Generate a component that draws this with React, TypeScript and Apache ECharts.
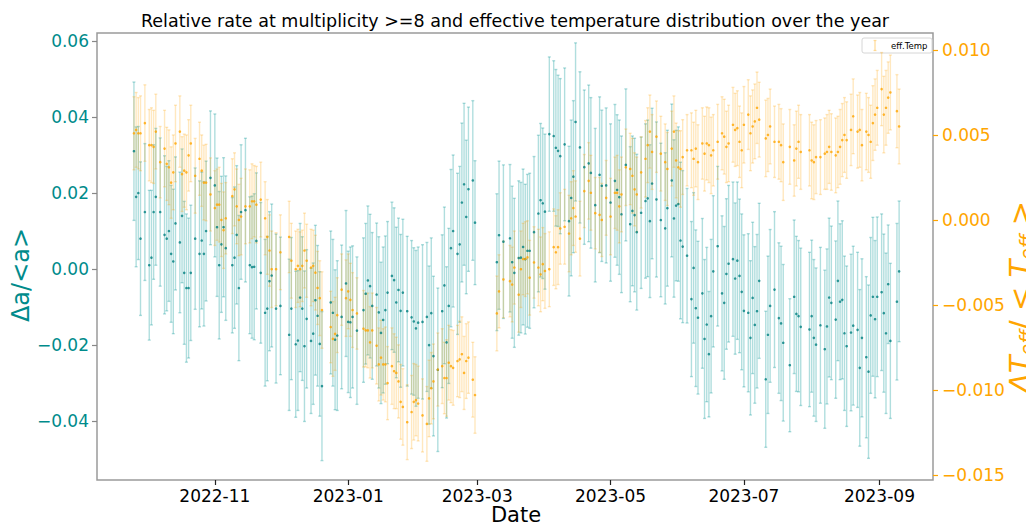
import React, { useEffect, useRef } from 'react';
import * as echarts from 'echarts';

// Day 0 = 2022-09-25 (UTC); x positions are days since this date.
const START_DATE = '2022-09-25';

const dayOffsets = [
  0, 1, 2, 3, 5, 7, 8, 9, 10, 12, 14, 15, 16, 17, 18, 19, 21, 22, 23, 24, 25, 26, 28, 30, 31, 32, 33, 35, 37, 38, 39, 40, 41, 42, 45, 46, 47, 48, 49, 51, 53, 54, 55, 56, 58, 60,
  61, 62, 63, 65, 67, 71, 72, 74, 75, 76, 77, 78, 79, 81, 82, 83, 84, 85, 86, 90, 91, 92, 93, 95, 97, 98, 99, 100, 102, 105, 106, 107, 108, 109, 111, 112, 113, 114, 115, 116, 118, 119, 120, 121, 122, 123,
  125, 127, 128, 129, 130, 132, 134, 135, 136, 137, 139, 141, 142, 143, 144, 145, 146, 148, 149, 150, 151, 152, 153, 155, 156,
  166, 167, 169, 172, 173, 174, 176, 177, 178, 179, 180, 181, 183, 185, 186, 187, 188,
  190, 192, 193, 194, 195, 197, 199, 200, 201, 202, 204, 206, 208, 209, 211, 213, 214, 216, 218, 220, 221, 222, 223, 225, 227, 228, 229, 230, 232, 234, 235, 236, 237, 239, 241, 243, 244, 246, 247, 248, 249, 250, 251,
  253, 255, 256, 257, 258, 260, 261, 262, 263, 264, 265, 267, 269, 270, 271, 272, 274, 275, 276, 277, 278, 279, 281, 282, 283, 284, 285, 286, 289, 290, 291, 293, 295, 296, 297, 300, 302, 303, 304, 305, 309, 310, 311, 312, 314, 316,
  317, 318, 319, 321, 322, 323, 324, 325, 326, 328, 329, 331, 332, 333, 335, 336, 337, 338, 339, 340, 342, 343, 344, 345, 346, 349, 350,
];

// Δa/<a> (left axis)
const rateValues = [
  0.031, 0.019, 0.020, 0.008, 0.015, 0.001, 0.003, 0.015, 0.019, 0.015, 0.009, 0.008, 0.010, 0.004, 0.002, 0.012, 0.007, 0.014, -0.001, -0.005, -0.005, -0.001, 0.008, 0.004, 0.0075, 0.004, 0.010, 0.024, 0.022, 0.011, 0.001, 0.0065, 0.011, 0.0055, 0.001, 0.003, 0.009, -0.005, 0.015, 0.0155, 0.001, 0.0005, 0.0006, 0.0074, -0.001, -0.0115,
  -0.0104, -0.0032, -0.0017, -0.0104, -0.0097, -0.0173, -0.0104, -0.0198, -0.0188, -0.0075, -0.0104, -0.0203, -0.0131, -0.0189, -0.0170, -0.0082, -0.0123, -0.0197, -0.0308, -0.0088, -0.0115, -0.0186, -0.0175, -0.0126, -0.0038, -0.0139, -0.0140, -0.0126, -0.0162, -0.0108, -0.0065, -0.0030, -0.0045, -0.0097, -0.0067, -0.0114, -0.0168, -0.0134, -0.0108, -0.0062, -0.0018, -0.0029, -0.0088, -0.0055, -0.0110, -0.0062,
  -0.0111, -0.0127, -0.0138, -0.0156, -0.0141, -0.0139, -0.0126, -0.0200, -0.0116, -0.0229, -0.0265, -0.0111, -0.0043, -0.0193, -0.0097, 0.0055, 0.0100, 0.0040, 0.0065, 0.0175, 0.0223, 0.0137, 0.0210, 0.0233, 0.0122,
  0.0018, 0.0089, 0.0072, 0.0081, 0.0018, -0.0010, 0.0029, 0.0030, 0.0058, 0.0026, 0.0048, 0.0048, 0.0097, 0.0146, 0.0181, 0.0173, 0.0151,
  0.0355, 0.0350, 0.0319, 0.0311, 0.0297, 0.0328, 0.0126, 0.0187, 0.0243, 0.0387, 0.0320, 0.0268, 0.0278, 0.0253, 0.0168, 0.0248, 0.0219, 0.0220, 0.0175, 0.0232, 0.0208, 0.0189, 0.0144, 0.0274, 0.0118, 0.0153, 0.0142, 0.0097, 0.0148, 0.0179, 0.0186, 0.0126, 0.0225, 0.0183, 0.0129, 0.0107, 0.0160, 0.0233, 0.0133, 0.0167, 0.0171, 0.0075, 0.0059,
  0.0035, -0.0079, 0.0003, -0.0103, -0.0128, -0.0064, -0.0184, -0.0146, -0.0224, -0.0124, -0.0006, 0.0060, -0.0064, -0.0089, -0.0013, 0.0014, 0.0026, -0.0025, 0.0022, -0.0018, -0.0060, -0.0110, -0.0115, -0.0181, -0.0076, -0.0147, -0.0111, -0.0031, -0.0290, -0.0173, -0.0097, -0.0054, -0.0129, -0.0143, -0.0194, -0.0253, -0.0073, -0.0118, -0.0124, -0.0152, -0.0159, -0.0124, -0.0181, -0.0199, -0.0148, -0.0211,
  -0.0151, -0.0075, -0.0089, -0.0133, -0.0031, -0.0086, -0.0081, -0.0169, -0.0203, -0.0167, -0.0149, -0.0160, -0.0260, -0.0181, -0.0232, -0.0270, -0.0122, -0.0073, -0.0132, -0.0073, -0.0061, -0.0116, -0.0169, -0.0040, -0.0189, -0.0086, -0.0006,
];

// ΔT_eff/<T_eff> (right axis)
const tempValues = [
  0.0051, 0.0053, 0.0051, 0.0051, 0.0057, 0.0044, 0.0044, 0.0043, 0.0052, 0.0034, 0.0042, 0.0033, 0.0031, 0.0022, 0.0028, 0.0045, 0.0052, 0.0027, 0.0029, 0.0028, 0.0038, 0.0045, 0.0026, 0.0036, 0.0029, 0.0022, 0.0022, 0.0015, 0.0007, 0.0009, 0.0009, 0.0000, -0.0006, 0.0001, 0.0014, 0.0018, 0.0008, 0.0000, 0.0002, 0.0008, 0.0008, 0.0011, 0.0011, 0.0009, 0.0012, 0.0001,
  -0.0010, -0.0018, -0.0029, -0.0029, -0.0019, -0.0010, -0.0024, -0.0029, -0.0027, -0.0029, -0.0027, -0.0018, -0.0024, -0.0028, -0.0027, -0.0031, -0.0040, -0.0046, -0.0053, -0.0063, -0.0070, -0.0067, -0.0056, -0.0041, -0.0046, -0.0042, -0.0047, -0.0053, -0.0055, -0.0064, -0.0065, -0.0065, -0.0072, -0.0065, -0.0074, -0.0085, -0.0081, -0.0085, -0.0085, -0.0096, -0.0086, -0.0089, -0.0090, -0.0095, -0.0107, -0.0110,
  -0.0119, -0.0113, -0.0107, -0.0106, -0.0108, -0.0115, -0.0120, -0.0105, -0.0099, -0.0095, -0.0088, -0.0086, -0.0093, -0.0093, -0.0084, -0.0086, -0.0087, -0.0083, -0.0082, -0.0079, -0.0090, -0.0083, -0.0081, -0.0094, -0.0103,
  -0.0055, -0.0042, -0.0035, -0.0036, -0.0038, -0.0028, -0.0044, -0.0029, -0.0023, -0.0023, -0.0022, -0.0034, -0.0025, -0.0028, -0.0032, -0.0026, -0.0030,
  -0.0029, -0.0016, -0.0019, -0.0016, -0.0005, -0.0004, -0.0008, 0.0001, 0.0007, 0.0002, -0.0011, 0.0017, 0.0023, 0.0016, 0.0004, 0.0003, 0.0000, 0.0013, 0.0002, 0.0016, 0.0016, 0.0008, 0.0015, 0.0031, 0.0030, 0.0026, 0.0018, 0.0015, 0.0028, 0.0036, 0.0044, 0.0052, 0.0040, 0.0049, 0.0039, 0.0034, 0.0030, 0.0042, 0.0052, 0.0035, 0.0031, 0.0030, 0.0037,
  0.0041, 0.0041, 0.0036, 0.0042, 0.0034, 0.0045, 0.0039, 0.0045, 0.0044, 0.0038, 0.0041, 0.0046, 0.0051, 0.0049, 0.0043, 0.0045, 0.0056, 0.0053, 0.0054, 0.0046, 0.0041, 0.0056, 0.0062, 0.0051, 0.0055, 0.0058, 0.0066, 0.0059, 0.0048, 0.0050, 0.0055, 0.0046, 0.0046, 0.0044, 0.0034, 0.0043, 0.0035, 0.0042, 0.0046, 0.0040, 0.0041, 0.0035, 0.0034, 0.0037, 0.0037, 0.0039,
  0.0040, 0.0043, 0.0040, 0.0038, 0.0040, 0.0043, 0.0047, 0.0050, 0.0047, 0.0053, 0.0061, 0.0052, 0.0053, 0.0044, 0.0052, 0.0050, 0.0046, 0.0057, 0.0062, 0.0066, 0.0077, 0.0062, 0.0066, 0.0072, 0.0075, 0.0064, 0.0055,
];

// error half-widths, in units of 1e-3
const rateErrMilli = [
  18.2, 18.4, 17.5, 20.2, 18.0, 19.7, 17.7, 17.7, 18.0, 19.5, 20.8, 19.0, 18.5, 18.0, 19.0, 17.5, 18.5, 17.6, 18.8, 19.5, 18.4, 17.8, 18.6, 19.2, 18.0, 19.0, 18.4, 17.6, 18.8, 18.2, 19.4, 17.9, 18.3, 19.0, 17.8, 18.6, 18.2, 19.1, 17.7, 18.9, 18.0, 18.7, 19.2, 17.9, 18.5, 19.3,
  19.0, 18.3, 18.8, 19.6, 18.1, 19.9, 18.7, 19.2, 18.4, 19.5, 18.9, 19.8, 18.2, 19.1, 18.6, 19.7, 18.5, 19.0, 19.6, 18.8, 19.3, 18.4, 19.7, 18.9, 19.2, 18.6, 19.8, 18.7, 19.4, 19.0, 18.5, 19.6, 18.9, 19.3, 18.8, 19.9, 18.6, 19.2, 19.5, 18.7, 19.4, 19.0, 19.8, 18.9, 20.1, 19.3,
  19.7, 20.2, 19.4, 20.5, 19.9, 20.3, 19.6, 20.8, 19.8, 21.0, 21.5, 20.1, 20.6, 19.9, 20.4, 20.7, 20.0, 21.2, 20.5, 20.9, 21.3, 20.2, 21.6, 21.0, 16.3,
  18.0, 19.5, 20.2, 19.4, 20.0, 19.6, 20.3, 19.8, 20.5, 19.7, 20.1, 20.4, 19.9, 20.6, 20.2, 19.8, 20.4,
  20.3, 19.8, 20.6, 19.9, 20.4, 20.1, 19.7, 20.5, 20.0, 20.8, 19.9, 20.3, 20.6, 19.8, 20.2, 20.5, 19.9, 20.4, 20.7, 20.1, 19.8, 20.3, 20.6, 20.0, 20.4, 19.7, 20.2, 20.5, 19.9, 20.3, 20.6, 20.1, 19.8, 20.4, 20.2, 19.9, 20.5, 20.1, 20.7, 19.8, 20.3, 20.6, 20.0,
  17.7, 20.4, 19.8, 20.6, 20.1, 19.7, 20.9, 20.3, 16.5, 20.2, 19.9, 21.0, 20.4, 20.1, 19.8, 20.6, 20.3, 19.9, 20.7, 20.2, 20.5, 20.0, 20.8, 20.3, 19.9, 20.6, 20.2, 20.4, 17.9, 20.7, 20.1, 20.5, 19.8, 20.3, 20.6, 17.5, 20.2, 20.4, 19.9, 20.7, 20.3, 20.0, 20.6, 20.2, 20.5, 20.8,
  20.4, 20.9, 20.2, 20.7, 21.0, 20.5, 20.8, 20.3, 21.1, 20.6, 20.9, 20.4, 20.6, 20.8, 21.2, 22.8, 20.5, 20.9, 20.7, 21.0, 20.6, 20.8, 21.1, 15.6, 20.4, 20.6, 18.5,
];

const tempErrMilli = [
  2.15, 2.2, 2.1, 2.2, 2.25, 2.1, 2.2, 2.15, 2.2, 2.1, 2.25, 2.15, 2.2, 2.1, 2.2, 2.25, 2.1, 2.2, 2.15, 2.2, 2.1, 2.25, 2.2, 2.15, 2.1, 2.2, 2.25, 2.15, 2.2, 2.1, 2.2, 2.15, 2.25, 2.1, 2.2, 2.15, 2.2, 2.1, 2.25, 2.2, 2.15, 2.2, 2.1, 2.25, 2.2, 2.15,
  2.2, 2.1, 2.25, 2.15, 2.2, 2.1, 2.2, 2.25, 2.15, 2.2, 2.1, 2.2, 2.15, 2.25, 2.1, 2.2, 2.15, 2.2, 2.25, 2.1, 2.2, 2.15, 2.2, 2.1, 2.25, 2.2, 2.15, 2.2, 2.1, 2.25, 2.15, 2.2, 2.1, 2.2, 2.25, 2.15, 2.2, 2.1, 2.2, 2.15, 2.25, 2.2, 2.1, 2.15, 2.2, 2.25,
  2.2, 2.15, 2.25, 2.1, 2.2, 2.15, 2.2, 2.25, 2.1, 2.2, 2.15, 2.2, 2.1, 2.25, 2.2, 2.15, 2.2, 2.1, 2.25, 2.2, 2.15, 2.2, 2.1, 2.2, 2.25,
  2.2, 2.15, 2.25, 2.1, 2.2, 2.15, 2.2, 2.25, 2.1, 2.2, 2.15, 2.2, 2.1, 2.25, 2.2, 2.15, 2.2,
  2.2, 2.25, 2.15, 2.2, 2.1, 2.2, 2.25, 2.15, 2.2, 2.1, 2.2, 2.15, 2.25, 2.2, 2.1, 2.2, 2.15, 2.2, 2.25, 2.1, 2.2, 2.15, 2.2, 2.25, 2.1, 2.2, 2.15, 2.2, 2.1, 2.25, 2.2, 2.15, 2.2, 2.1, 2.2, 2.25, 2.15, 2.2, 2.1, 2.2, 2.15, 2.25, 2.2,
  2.1, 2.2, 2.15, 2.25, 2.2, 2.1, 2.2, 2.15, 2.2, 2.25, 2.1, 2.2, 2.15, 2.2, 2.1, 2.25, 2.2, 2.15, 2.2, 2.1, 2.2, 2.25, 2.05, 2.2, 2.15, 2.2, 2.1, 2.2, 2.25, 2.15, 2.2, 2.1, 2.2, 2.15, 2.25, 2.2, 2.1, 2.2, 2.15, 2.2, 2.1, 2.25, 2.2, 2.15, 2.2, 2.1,
  2.2, 2.15, 2.25, 2.2, 2.1, 2.2, 2.15, 2.2, 2.25, 2.1, 2.2, 2.15, 2.2, 2.1, 2.25, 2.2, 2.15, 2.2, 2.1, 2.2, 2.15, 2.25, 2.2, 2.1, 2.2, 2.15, 2.2,
];

const xTickLabels = ['2022-11', '2023-01', '2023-03', '2023-05', '2023-07', '2023-09'];
const leftTicks = [-0.04, -0.02, 0.0, 0.02, 0.04, 0.06];
const rightTicks = [-0.015, -0.01, -0.005, 0.0, 0.005, 0.01];

const TITLE = 'Relative rate at multiplicity >=8 and effective temperature distribution over the year';
const FONT = 'DejaVu Sans';
const TEAL = '#008080';
const ORANGE = '#FFA500';

const DAY_MS = 86400000;
const parseUTC = (s: string) => {
  const [y, m, d] = s.split('-').map(Number);
  return Date.UTC(y, m - 1, d || 1);
};
const startMs = parseUTC(START_DATE);
const xTickValues = xTickLabels.map((l) => (parseUTC(l) - startMs) / DAY_MS);
const minus = (s: string) => s.replace('-', '\u2212');

function errRender(color: string) {
  return (params: any, api: any) => {
    const x = api.value(0);
    const lo = api.coord([x, api.value(1)]);
    const hi = api.coord([x, api.value(2)]);
    const cw = 1.5;
    const style = { stroke: color, lineWidth: 1.4 };
    return {
      type: 'group',
      children: [
        { type: 'line', shape: { x1: hi[0], y1: hi[1], x2: lo[0], y2: lo[1] }, style },
        { type: 'line', shape: { x1: hi[0] - cw, y1: hi[1], x2: hi[0] + cw, y2: hi[1] }, style },
        { type: 'line', shape: { x1: lo[0] - cw, y1: lo[1], x2: lo[0] + cw, y2: lo[1] }, style },
      ],
    };
  };
}

export default function App() {
  const ref = useRef<HTMLDivElement>(null);
  useEffect(() => {
    if (!ref.current) return;
    const chart = echarts.init(ref.current, undefined, { renderer: 'svg' });
    const n = Math.min(dayOffsets.length, rateValues.length, tempValues.length);
    const rateErrData: number[][] = [];
    const ratePts: number[][] = [];
    const tempErrData: number[][] = [];
    const tempPts: number[][] = [];
    for (let i = 0; i < n; i++) {
      const d = dayOffsets[i];
      const re = (rateErrMilli[i] ?? 19) / 1000;
      const te = (tempErrMilli[i] ?? 2.2) / 1000;
      rateErrData.push([d, rateValues[i] - re, rateValues[i] + re]);
      ratePts.push([d, rateValues[i]]);
      tempErrData.push([d, tempValues[i] - te, tempValues[i] + te]);
      tempPts.push([d, tempValues[i]]);
    }
    const option: any = {
      animation: false,
      textStyle: { fontFamily: FONT },
      grid: {
        left: 97, right: 93, top: 33, bottom: 47,
        show: true, borderColor: '#9a9a9a', borderWidth: 1.5,
        backgroundColor: 'transparent', containLabel: false, outerBoundsMode: 'none',
      },
      xAxis: {
        type: 'value', min: -16.9, max: 365.5, position: 'bottom',
        axisLine: { show: false, onZero: false },
        splitLine: { show: false },
        axisTick: { show: true, customValues: xTickValues, length: 5, lineStyle: { color: '#222', width: 1.2 } },
        axisLabel: {
          customValues: xTickValues, color: '#000', fontSize: 17, margin: 7, fontFamily: FONT,
          formatter: (v: number) => {
            const i = xTickValues.findIndex((t) => Math.abs(t - v) < 1e-6);
            return i >= 0 ? xTickLabels[i] : '';
          },
        },
      },
      yAxis: [
        {
          type: 'value', min: -0.0555, max: 0.0621, position: 'left',
          axisLine: { show: false, onZero: false }, splitLine: { show: false },
          axisTick: { show: true, customValues: leftTicks, length: 5, lineStyle: { color: '#888', width: 1.2 } },
          axisLabel: {
            customValues: leftTicks, color: 'darkcyan', fontSize: 17, margin: 8, fontFamily: FONT,
            formatter: (v: number) => minus(v.toFixed(2)),
          },
        },
        {
          type: 'value', min: -0.0153, max: 0.011, position: 'right',
          axisLine: { show: false, onZero: false }, splitLine: { show: false },
          axisTick: { show: true, customValues: rightTicks, length: 5, lineStyle: { color: ORANGE, width: 1.2 } },
          axisLabel: {
            customValues: rightTicks, color: ORANGE, fontSize: 17, margin: 9, fontFamily: FONT,
            formatter: (v: number) => minus(v.toFixed(3)),
          },
        },
      ],
      series: [
        {
          type: 'custom', name: 'rate err', xAxisIndex: 0, yAxisIndex: 0, clip: true,
          renderItem: errRender('rgba(0,150,150,0.31)'), encode: { x: 0, y: [1, 2] }, data: rateErrData,
        },
        {
          type: 'scatter', name: 'rate', xAxisIndex: 0, yAxisIndex: 0, symbol: 'circle', symbolSize: 2.6,
          itemStyle: { color: TEAL }, data: ratePts, clip: true,
        },
        {
          type: 'custom', name: 'eff.Temp err', xAxisIndex: 0, yAxisIndex: 1, clip: true,
          renderItem: errRender('rgba(255,165,0,0.25)'), encode: { x: 0, y: [1, 2] }, data: tempErrData,
        },
        {
          type: 'scatter', name: 'eff.Temp', xAxisIndex: 0, yAxisIndex: 1, symbol: 'circle', symbolSize: 2.6,
          itemStyle: { color: ORANGE }, data: tempPts, clip: true,
        },
      ],
      graphic: [
        {
          type: 'text', x: 515, y: 21, silent: true,
          style: { text: TITLE, fill: '#000', font: `17.5px "${FONT}"`, align: 'center', verticalAlign: 'middle' },
        },
        {
          type: 'text', x: 516, y: 515, silent: true,
          style: { text: 'Date', fill: '#000', font: `21px "${FONT}"`, align: 'center', verticalAlign: 'middle' },
        },
        {
          type: 'text', x: 21, y: 275, rotation: Math.PI / 2, silent: true,
          style: { text: 'Δa/<a>', fill: 'darkcyan', font: `24px "${FONT}"`, align: 'center', verticalAlign: 'middle' },
        },
        {
          type: 'text', x: 1020, y: 297, rotation: Math.PI / 2, silent: true,
          style: {
            text: '{i|ΔT}{s|eff}{n|/ < }{i|T}{s|eff}{n| >}',
            fill: ORANGE, align: 'center', verticalAlign: 'middle',
            rich: {
              i: { fontFamily: FONT, fontSize: 29, fontStyle: 'italic', fill: ORANGE },
              n: { fontFamily: FONT, fontSize: 29, fill: ORANGE },
              s: { fontFamily: FONT, fontSize: 19, fontStyle: 'italic', fill: ORANGE, padding: [14, 0, 0, 0] },
            },
          },
        },
        {
          type: 'group', silent: true,
          children: [
            { type: 'rect', shape: { x: 862, y: 38, width: 70, height: 15, r: 2 }, style: { fill: 'rgba(255,255,255,0.85)', stroke: '#d6d6d6', lineWidth: 1 } },
            { type: 'line', shape: { x1: 875, y1: 40.5, x2: 875, y2: 50.5 }, style: { stroke: 'rgba(255,165,0,0.35)', lineWidth: 1.4 } },
            { type: 'line', shape: { x1: 873.5, y1: 40.5, x2: 876.5, y2: 40.5 }, style: { stroke: 'rgba(255,165,0,0.35)', lineWidth: 1.2 } },
            { type: 'line', shape: { x1: 873.5, y1: 50.5, x2: 876.5, y2: 50.5 }, style: { stroke: 'rgba(255,165,0,0.35)', lineWidth: 1.2 } },
            { type: 'text', x: 891, y: 45.5, style: { text: 'eff.Temp', fill: '#000', font: `8.5px "${FONT}"`, align: 'left', verticalAlign: 'middle' } },
          ],
        },
      ],
    };
    chart.setOption(option);
    return () => chart.dispose();
  }, []);
  return (
    <div
      ref={ref}
      style={{ position: 'fixed', left: 0, top: 0, width: 1026, height: 527, background: '#fff' }}
    />
  );
}
